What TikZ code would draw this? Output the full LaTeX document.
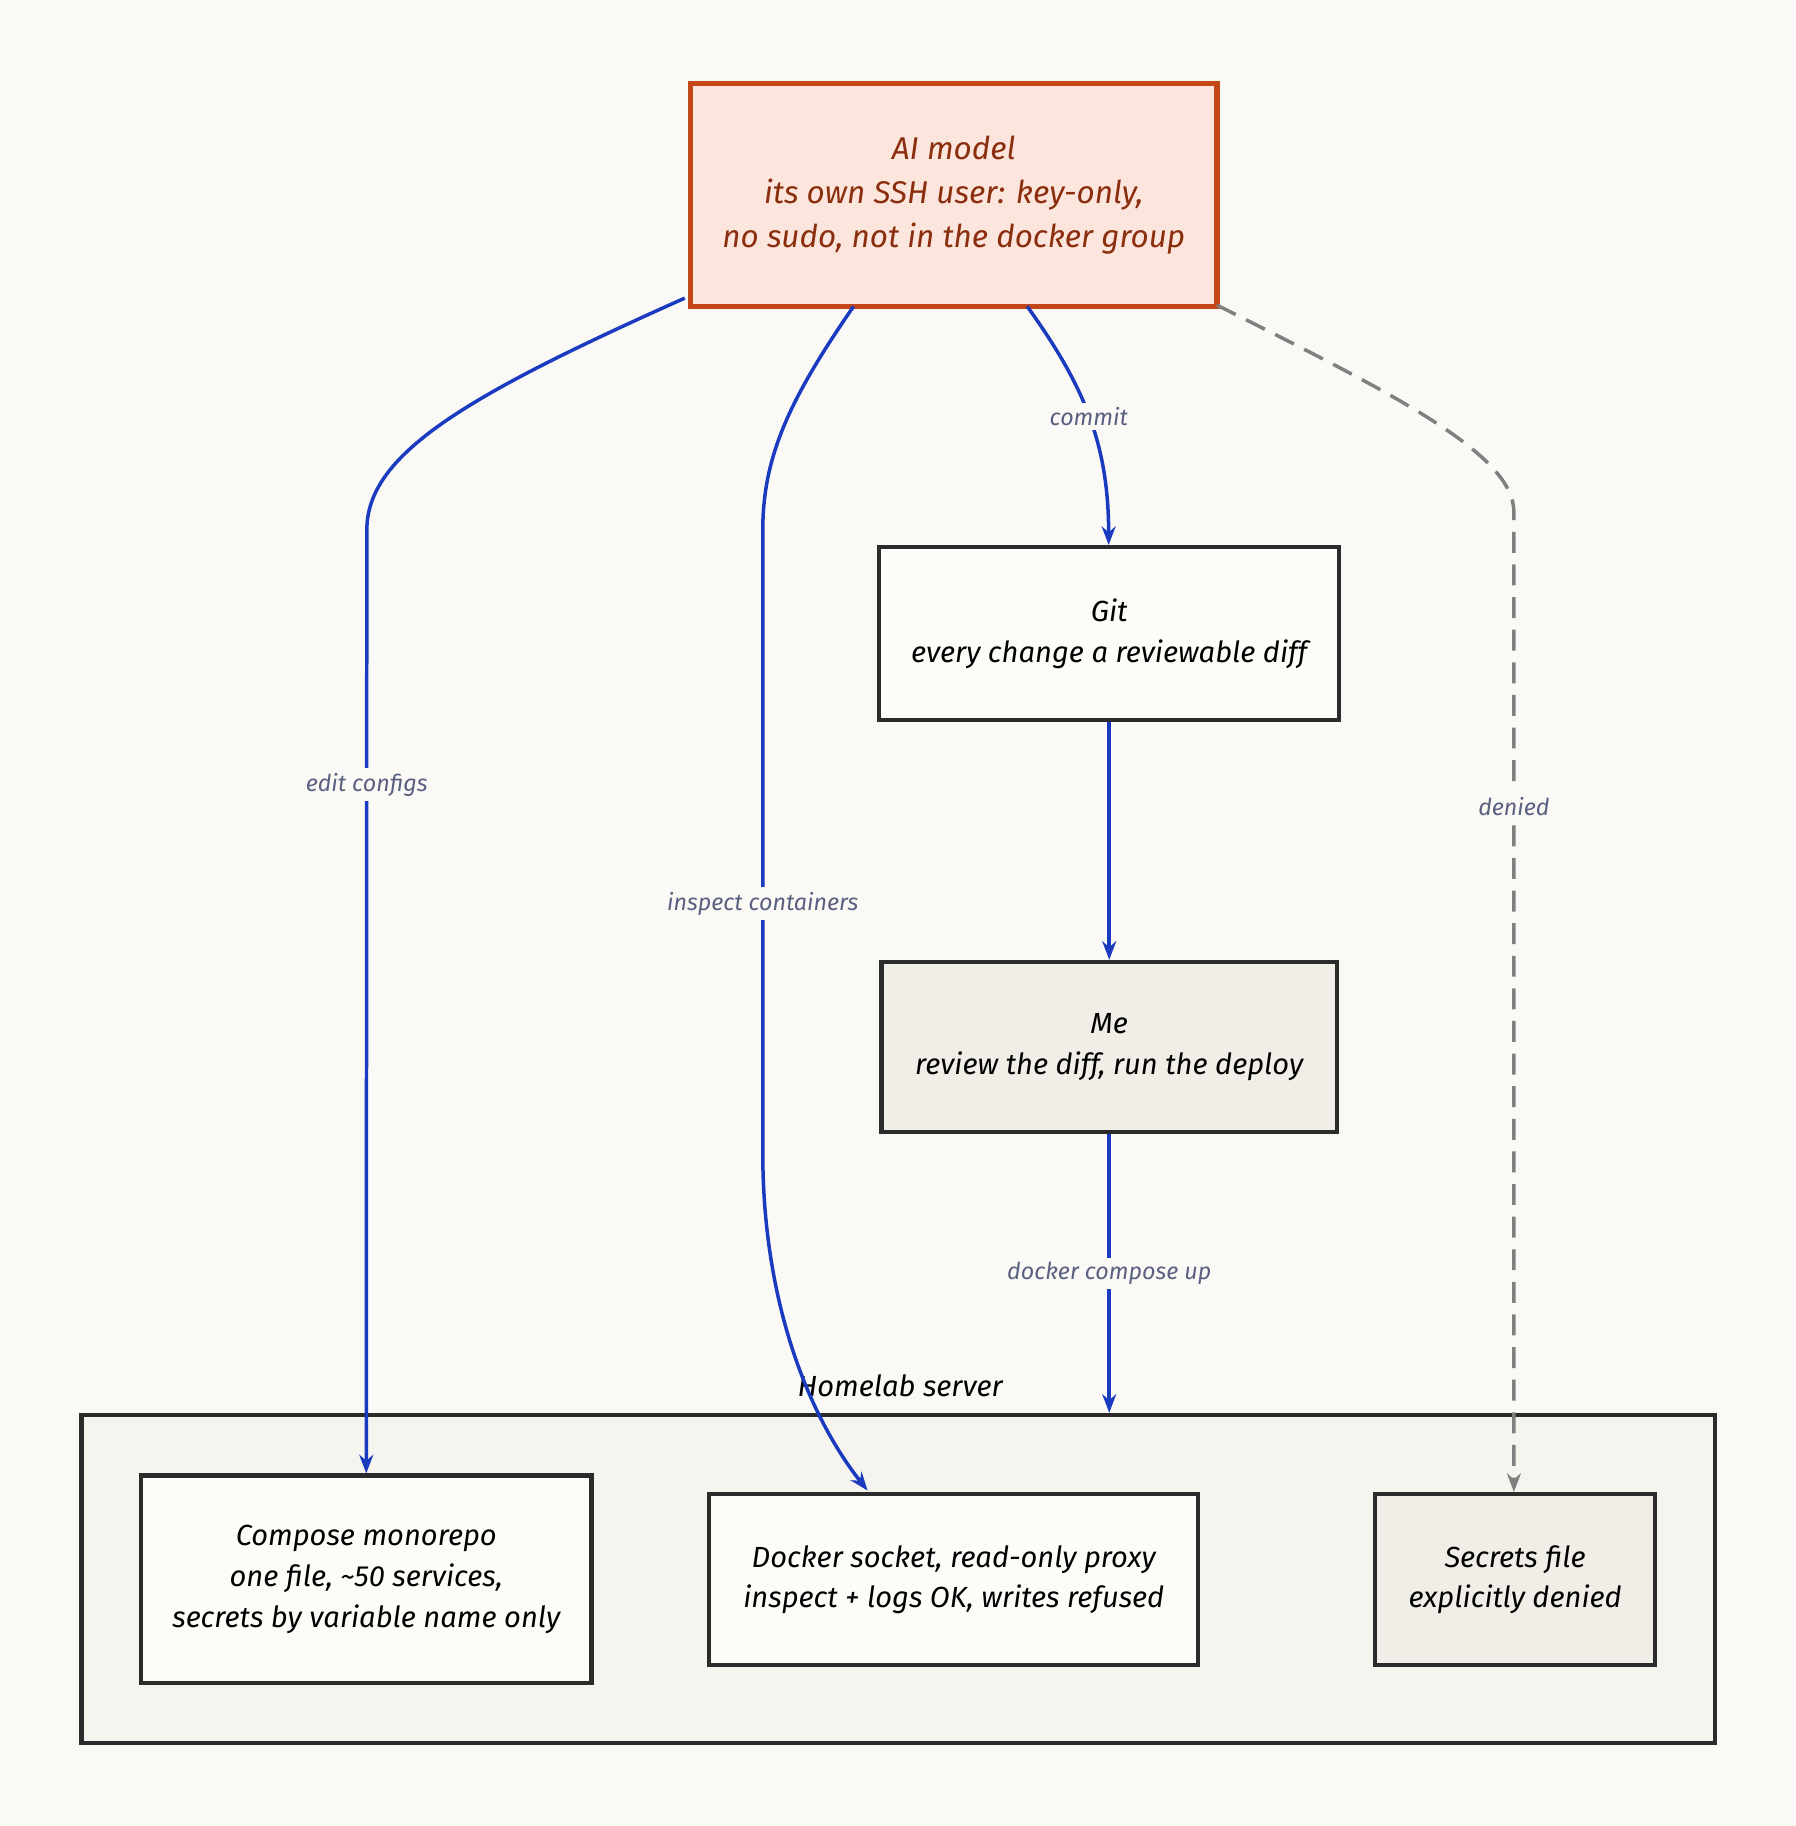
\documentclass[tikz,border=0pt]{standalone}
\usepackage{fontspec}
\setmainfont{Fira Sans}
\usetikzlibrary{arrows.meta}
\definecolor{bg}{HTML}{FAF9F5}
\definecolor{aifill}{HTML}{FCE5DC}
\definecolor{aidraw}{HTML}{C4471A}
\definecolor{aitext}{HTML}{8A2E0E}
\definecolor{blu}{HTML}{1A3BBF}
\definecolor{lbl}{HTML}{5A6080}
\definecolor{grayfill}{HTML}{F0EEE6}
\definecolor{homefill}{HTML}{F6F4EE}
\definecolor{wfill}{HTML}{FDFCF8}
\definecolor{dk}{HTML}{2B2B2B}
\begin{document}
\begin{tikzpicture}[x=0.5pt,y=-0.5pt,
 box/.style={draw=dk,line width=1.8pt,fill=wfill,align=center,font=\fontsize{12.5}{17.5}\selectfont\itshape,text=black},
 edge/.style={draw=blu,line width=1.5pt,-{Stealth[length=8pt,width=6pt]}},
 lab/.style={fill=bg,text=lbl,font=\fontsize{10}{12}\selectfont\itshape,inner sep=2pt}]
\fill[bg] (0,0) rectangle (1542,1568);
\useasboundingbox (0,0) rectangle (1542,1568);
\node[draw=dk,line width=1.8pt,fill=homefill,minimum width=701.5pt,minimum height=141pt] (home) at (771.5,1356) {};
\node[font=\fontsize{12.5}{16}\selectfont\itshape] (homel) at (773,1190) {Homelab server};
\node[draw=aidraw,line width=2.2pt,fill=aifill,text=aitext,align=center,font=\fontsize{13.5}{19}\selectfont\itshape,minimum width=226pt,minimum height=95.5pt] (ai) at (819,167.5) {AI model\\its own SSH user: key-only,\\no sudo, not in the docker group};
\node[box,minimum width=197.5pt,minimum height=74pt] (git) at (952.5,544) {Git\\every change a reviewable diff};
\node[box,fill=grayfill,minimum width=195.5pt,minimum height=73pt] (me) at (952.5,899) {Me\\review the diff, run the deploy};
\node[box,minimum width=193.5pt,minimum height=89pt] (comp) at (314.5,1356) {Compose monorepo\\one file, \textasciitilde 50 services,\\secrets by variable name only};
\node[box,minimum width=210pt,minimum height=73.5pt] (dock) at (819,1356.5) {Docker socket, read-only proxy\\inspect + logs OK, writes refused};
\node[box,fill=grayfill,minimum width=120pt,minimum height=73.5pt] (sec) at (1301,1356.5) {Secrets file\\explicitly denied};
\coordinate (a1) at (588,256);
\coordinate (a2) at (733,263);
\coordinate (a3) at (882,263);
\coordinate (a4) at (1045,262);
\draw[edge] (a1) .. controls (400,340) and (315,390) .. (315,455) -- (comp.north) node[lab,pos=0.27] {edit configs};
\draw[edge] (a2) .. controls (680,340) and (655,390) .. (655,455) -- (655,990) node[lab,pos=0.6] {inspect containers} .. controls (655,1110) and (690,1210) .. (745,1280);
\draw[edge] (a3) .. controls (930,330) and (952,380) .. (952,468) node[lab,pos=0.5] {commit};
\draw[edge] (git.south) -- (me.north);
\draw[edge] (me.south) -- (home.north -| me.south) node[lab,midway] {docker compose up};
\draw[draw=gray,line width=1.5pt,dash pattern=on 9pt off 5pt,-{Stealth[length=8pt,width=6pt]}] (a4) .. controls (1200,340) and (1300,390) .. (1300,440) -- (sec.north -| 1300,0) node[lab,pos=0.3] {denied};
\end{tikzpicture}
\end{document}
